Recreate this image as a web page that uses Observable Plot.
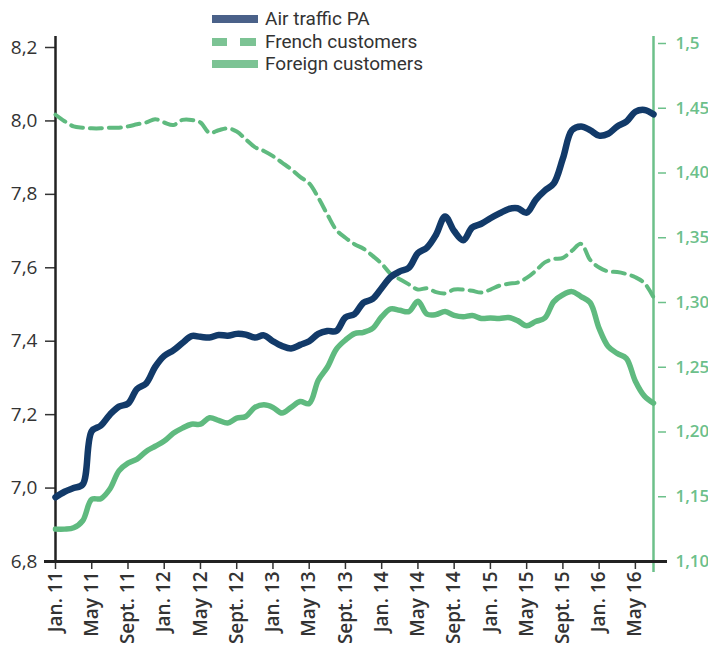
<!DOCTYPE html>
<html>
<head>
<meta charset="utf-8">
<script src="https://cdn.jsdelivr.net/npm/d3@7"></script>
<script src="https://cdn.jsdelivr.net/npm/@observablehq/plot@0.6"></script>
<style>
  html, body { margin: 0; padding: 0; background: #fff; }
  #wrap { position: relative; width: 708px; height: 647px; overflow: hidden; font-family: "Open Sans", sans-serif; }
  #legend { position: absolute; left: 0; top: 0; }
  .lrow { position: absolute; left: 212px; height: 22px; display: flex; align-items: center; white-space: nowrap; }
  .lrow span { display: inline-block; margin-left: 7px; font-family: Roboto, sans-serif; font-size: 19px; line-height: 22px; color: #333; }
</style>
</head>
<body>
<div id="wrap"><div id="chart"></div><div id="legend"></div></div>
<script>
// ---- data (month index 0 = Jan 2011) ----
const monthIndex = d3.range(0, 67);
const airTraffic = [
  6.975, 6.99, 7.00, 7.01, 7.155, 7.17, 7.20, 7.222, 7.23, 7.27, 7.285, 7.33,
  7.36, 7.375, 7.395, 7.414, 7.412, 7.41, 7.417, 7.415, 7.42, 7.418, 7.41, 7.416,
  7.40, 7.387, 7.38, 7.39, 7.40, 7.42, 7.428, 7.428, 7.465, 7.474, 7.505, 7.515,
  7.545, 7.575, 7.59, 7.60, 7.64, 7.655, 7.69, 7.74, 7.70, 7.675, 7.71, 7.72,
  7.735, 7.748, 7.76, 7.762, 7.75, 7.785, 7.81, 7.83, 7.898, 7.975, 7.985, 7.975,
  7.96, 7.965, 7.985, 7.998, 8.025, 8.03, 8.018
];
const frenchCustomers = [
  1.445, 1.44, 1.436, 1.435, 1.4345, 1.4345, 1.435, 1.435, 1.436, 1.4376, 1.439, 1.4415,
  1.439, 1.437, 1.441, 1.441, 1.439, 1.431, 1.433, 1.4345, 1.432, 1.426, 1.42, 1.417,
  1.413, 1.408, 1.403, 1.397, 1.392, 1.381, 1.368, 1.356, 1.35, 1.345, 1.3415, 1.336,
  1.33, 1.322, 1.318, 1.314, 1.31, 1.311, 1.308, 1.307, 1.31, 1.31, 1.309, 1.3077,
  1.31, 1.313, 1.3145, 1.3154, 1.319, 1.3245, 1.331, 1.3335, 1.3345, 1.34, 1.3453, 1.333,
  1.327, 1.324, 1.3235, 1.322, 1.3195, 1.315, 1.304
];
const foreignCustomers = [
  1.125, 1.125, 1.126, 1.1315, 1.148, 1.1485, 1.156, 1.17, 1.176, 1.179, 1.185, 1.189,
  1.193, 1.199, 1.203, 1.206, 1.206, 1.211, 1.209, 1.207, 1.2107, 1.212, 1.219, 1.221,
  1.219, 1.2146, 1.219, 1.2235, 1.222, 1.24, 1.25, 1.264, 1.271, 1.276, 1.277, 1.28,
  1.289, 1.295, 1.294, 1.293, 1.301, 1.291, 1.2907, 1.293, 1.29, 1.289, 1.29, 1.2877,
  1.288, 1.2877, 1.2884, 1.286, 1.282, 1.2853, 1.288, 1.3007, 1.306, 1.3084, 1.3046, 1.30,
  1.28, 1.266, 1.2607, 1.2569, 1.2392, 1.2277, 1.2223
];
const xTickMonths = [0, 4, 8, 12, 16, 20, 24, 28, 32, 36, 40, 44, 48, 52, 56, 60, 64];
const xTickLabels = ["Jan. 11", "May 11", "Sept. 11", "Jan. 12", "May 12", "Sept. 12",
  "Jan. 13", "May 13", "Sept. 13", "Jan. 14", "May 14", "Sept. 14", "Jan. 15", "May 15",
  "Sept. 15", "Jan. 16", "May 16"];
const leftTicks = [6.8, 7.0, 7.2, 7.4, 7.6, 7.8, 8.0, 8.2];
const leftTickLabels = ["6,8", "7,0", "7,2", "7,4", "7,6", "7,8", "8,0", "8,2"];
const rightTicks = [1.10, 1.15, 1.20, 1.25, 1.30, 1.35, 1.40, 1.45, 1.50];
const rightTickLabels = ["1,10", "1,15", "1,20", "1,25", "1,30", "1,35", "1,40", "1,45", "1,5"];
const seriesNames = ["Air traffic PA", "French customers", "Foreign customers"];

// ---- styling ----
const NAVY = "#123a69";
const GREEN = "#5fba7f";
const GREEN_AXIS = "#6cc08a";

// right scale (1.10–1.50) expressed in left-scale units
const toLeft = r => 6.8 + (r - 1.1) * 3.5 * (518 / 514);
const yTop = 6.8 + (561 - 36) / 514 * 1.4;

const rows = monthIndex.map((m, i) => ({
  m,
  air: airTraffic[i],
  french: toLeft(frenchCustomers[i]),
  foreign: toLeft(foreignCustomers[i])
}));

const xLab = new Map(xTickMonths.map((t, i) => [t, xTickLabels[i]]));
const lLab = new Map(leftTicks.map((t, i) => [t, leftTickLabels[i]]));
const rTickVals = rightTicks.map(toLeft);
const rLab = new Map(rTickVals.map((t, i) => [t, rightTickLabels[i]]));

const chart = Plot.plot({
  width: 708,
  height: 647,
  marginLeft: 55,
  marginRight: 55,
  marginTop: 36,
  marginBottom: 86,
  style: { fontFamily: "'Open Sans', sans-serif", color: "#333", background: "#fff", overflow: "visible" },
  x: { type: "linear", domain: [0, 66], label: null },
  y: { domain: [6.8, yTop], label: null },
  marks: [
    Plot.axisY({ ticks: leftTicks, tickFormat: d => lLab.get(d), tickSize: 10, tickPadding: 8,
      fontSize: 19, color: "#333", strokeWidth: 1.5, label: null }),
    Plot.axisY({ anchor: "right", ticks: rTickVals, tickFormat: d => rLab.get(d), tickSize: 8,
      tickPadding: 10, dx: 4, fontSize: 17, fontWeight: 600, color: GREEN_AXIS, strokeWidth: 1.5, label: null }),
    Plot.axisX({ ticks: xTickMonths, tickFormat: d => xLab.get(d), tickRotate: -90, tickSize: 8,
      tickPadding: 2, fontSize: 19, fontWeight: 600, color: "#333", strokeWidth: 1.5, label: null }),
    Plot.ruleX([66], { y1: 6.8 - 0.03, y2: yTop, stroke: GREEN_AXIS, strokeWidth: 2.5 }),
    Plot.ruleX([0], { y1: 6.8, y2: yTop, stroke: "#222", strokeWidth: 2.5 }),
    Plot.ruleY([6.8], { insetLeft: -11, insetRight: -14, stroke: "#222", strokeWidth: 3 }),
    Plot.line(rows, { x: "m", y: "french", stroke: GREEN, strokeWidth: 4, strokeDasharray: "12,7",
      curve: "catmull-rom" }),
    Plot.line(rows, { x: "m", y: "foreign", stroke: GREEN, strokeWidth: 5.5, strokeLinecap: "round",
      curve: "catmull-rom" }),
    Plot.line(rows, { x: "m", y: "air", stroke: NAVY, strokeWidth: 6.5, strokeLinecap: "round",
      curve: "catmull-rom" })
  ]
});
document.getElementById("chart").appendChild(chart);

// ---- legend ----
const legend = document.getElementById("legend");
const swatches = [
  `<svg width="46" height="10"><rect x="0" y="1" width="46" height="8" fill="#4a6189"/></svg>`,
  `<svg width="46" height="10"><rect x="0" y="1" width="15" height="8" fill="#7cc394"/><rect x="28" y="1" width="16" height="8" fill="#7cc394"/></svg>`,
  `<svg width="46" height="10"><rect x="0" y="1" width="46" height="8" fill="#7cc394"/></svg>`
];
const rowTops = [7.5, 30.5, 53];
seriesNames.forEach((name, i) => {
  const d = document.createElement("div");
  d.className = "lrow";
  d.style.top = rowTops[i] + "px";
  d.innerHTML = swatches[i] + `<span>${name}</span>`;
  legend.appendChild(d);
});
</script>
</body>
</html>
